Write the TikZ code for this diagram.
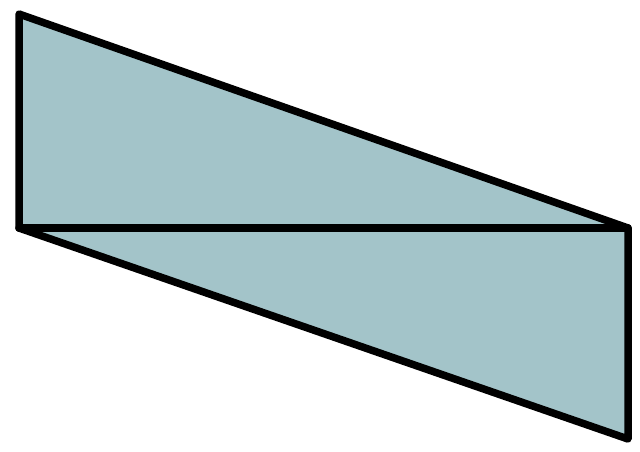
\documentclass[tikz,border=0pt]{standalone}
\definecolor{panel}{HTML}{A3C4C9}
\begin{document}
\begin{tikzpicture}[x=1pt,y=-1pt,
  edge/.style={line width=7.5pt,line join=round,line cap=round,draw=black}]
\useasboundingbox (0,0) rectangle (640,451);
\coordinate (A) at (19,14);
\coordinate (B) at (628,228);
\coordinate (C) at (628,439);
\coordinate (D) at (19,228);
\filldraw[edge,fill=panel] (A) -- (B) -- (C) -- (D) -- cycle;
\draw[edge] (D) -- (B);
\end{tikzpicture}
\end{document}
